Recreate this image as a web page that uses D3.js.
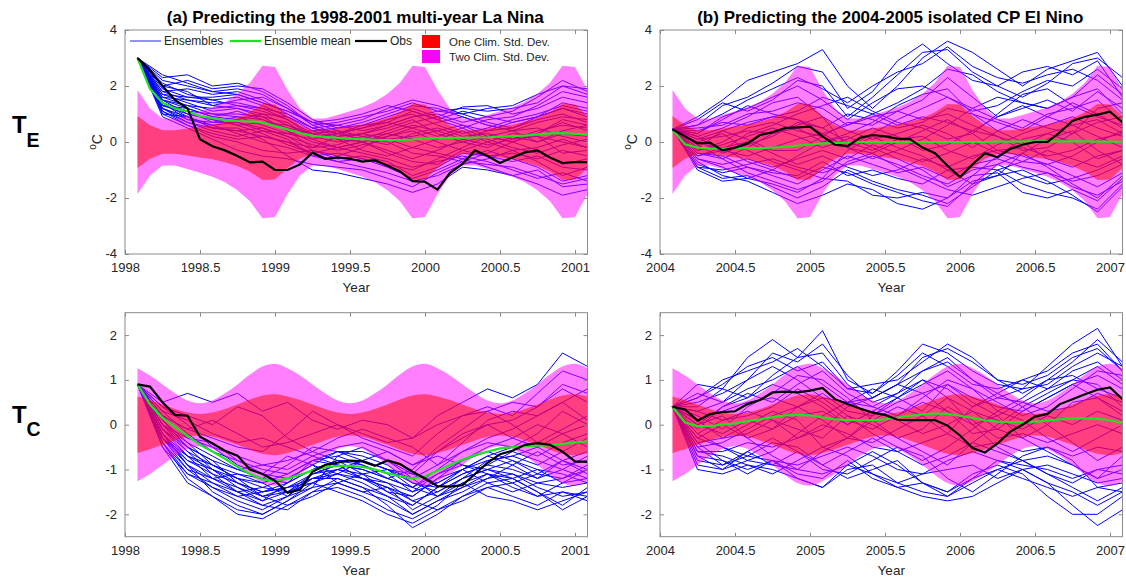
<!DOCTYPE html>
<html><head><meta charset="utf-8">
<script src="https://cdn.jsdelivr.net/npm/d3@7"></script>
<style>
body{margin:0;background:#fff;}
svg{display:block;font-family:"Liberation Sans",Arial,Helvetica,sans-serif;}
</style></head><body>
<svg id="c" width="1126" height="582"></svg>
<script>
// ---------------- DATA ----------------
const titles = ["(a) Predicting the 1998-2001 multi-year La Nina", "(b) Predicting the 2004-2005 isolated CP El Nino"];
const startYears = [1998, 2004];
const xTicksA = [1998, 1998.5, 1999, 1999.5, 2000, 2000.5, 2001];
const xTicksB = [2004, 2004.5, 2005, 2005.5, 2006, 2006.5, 2007];
const yTicksTE = [-4, -2, 0, 2, 4];
const yTicksTC = [-2, -1, 0, 1, 2];
const yDomainTE = [-4, 4];
const yDomainTC = [-2.5, 2.5];

// climatological std by calendar-month index (0 = Dec/Jan boundary point)
const stdTE = [1.34, 0.93, 0.6, 0.42, 0.42, 0.48, 0.55, 0.62, 0.72, 0.86, 1.06, 1.36];
const stdTC = [0.68, 0.63, 0.55, 0.45, 0.35, 0.27, 0.24, 0.27, 0.35, 0.45, 0.56, 0.65];

// monthly ensemble mean & observations (37 months)
const meanTE_a = [3.0,1.9,1.4,1.2,1.1,0.92,0.85,0.78,0.75,0.74,0.7,0.57,0.45,0.32,0.22,0.18,0.15,0.12,0.1,0.08,0.07,0.07,0.09,0.12,0.14,0.15,0.15,0.16,0.17,0.19,0.21,0.23,0.27,0.31,0.32,0.29,0.26];
const obsTE_a  = [3.0,2.55,2.0,1.5,1.2,0.1,-0.15,-0.3,-0.5,-0.73,-0.7,-1.0,-1.0,-0.8,-0.38,-0.6,-0.55,-0.6,-0.7,-0.65,-0.85,-1.05,-1.4,-1.42,-1.7,-1.1,-0.78,-0.3,-0.5,-0.75,-0.55,-0.37,-0.3,-0.55,-0.75,-0.72,-0.72];
const meanTE_b = [0.43,-0.08,-0.2,-0.23,-0.24,-0.23,-0.22,-0.22,-0.2,-0.17,-0.13,-0.09,-0.05,-0.03,-0.02,0.0,0.0,0.0,0.0,0.0,0.0,0.0,0.0,0.0,0.0,0.0,0.01,0.01,0.02,0.02,0.02,0.02,0.02,0.02,0.01,0.01,0.0];
const obsTE_b  = [0.45,0.2,-0.05,-0.02,-0.3,-0.2,-0.05,0.25,0.35,0.5,0.52,0.55,0.2,-0.1,-0.15,0.15,0.25,0.2,0.12,0.1,-0.2,-0.4,-0.85,-1.25,-0.8,-0.4,-0.55,-0.25,-0.1,0.0,0.0,0.35,0.75,0.9,0.98,1.08,0.7];
const meanTC_a = [0.9,0.45,0.15,-0.05,-0.25,-0.45,-0.6,-0.76,-0.94,-1.1,-1.22,-1.25,-1.2,-1.12,-1.02,-0.95,-0.92,-0.92,-0.94,-1.0,-1.08,-1.15,-1.2,-1.15,-1.02,-0.9,-0.78,-0.68,-0.6,-0.53,-0.5,-0.48,-0.47,-0.46,-0.43,-0.4,-0.37];
const obsTC_a  = [0.9,0.85,0.5,0.22,0.2,-0.27,-0.42,-0.58,-0.69,-1.0,-1.1,-1.25,-1.52,-1.45,-1.05,-0.9,-0.85,-0.8,-0.82,-0.92,-0.8,-0.88,-1.05,-1.2,-1.37,-1.38,-1.35,-1.1,-0.85,-0.66,-0.58,-0.45,-0.41,-0.45,-0.6,-0.82,-0.83];
const meanTC_b = [0.4,0.05,-0.03,-0.03,0.0,0.03,0.08,0.12,0.17,0.21,0.22,0.21,0.16,0.12,0.1,0.1,0.1,0.12,0.16,0.2,0.23,0.25,0.24,0.2,0.15,0.1,0.07,0.06,0.06,0.07,0.09,0.12,0.14,0.14,0.13,0.1,0.04];
const obsTC_b  = [0.4,0.34,0.09,0.24,0.28,0.3,0.46,0.55,0.72,0.74,0.72,0.76,0.82,0.57,0.46,0.36,0.27,0.22,0.11,0.1,0.1,0.1,-0.02,-0.24,-0.52,-0.62,-0.42,-0.16,0.0,0.18,0.24,0.46,0.57,0.68,0.78,0.83,0.57];

// ensemble members, bi-monthly (19 points)
const ensTE_a = [
[3.0,2.3,2.4,2.0,2.1,1.8,1.3,0.6,0.7,0.9,1.1,1.4,1.1,1.2,1.1,1.2,1.4,2.0,1.9],
[3.0,2.0,2.2,1.9,2.0,1.9,1.4,0.8,0.5,0.6,0.9,1.2,0.9,1.25,1.3,1.0,1.2,1.6,1.4],
[3.0,1.8,1.9,1.7,1.8,1.5,1.0,0.5,0.6,0.4,0.6,0.9,1.0,0.7,0.9,1.1,1.6,2.2,1.8],
[3.0,1.6,1.5,1.3,1.5,1.6,1.2,0.6,0.3,0.5,0.8,1.0,0.6,0.3,0.5,0.8,1.0,1.3,1.1],
[3.0,1.5,1.3,1.0,0.9,0.8,0.5,0.3,0.4,0.2,0.3,0.6,0.4,0.6,0.4,0.5,0.8,1.0,0.7],
[3.0,1.3,1.0,0.8,0.6,0.7,0.6,0.2,0.0,0.1,-0.1,0.3,0.5,0.2,0.3,0.1,0.4,0.6,0.5],
[3.0,1.2,0.9,0.5,0.4,0.2,0.0,-0.2,0.2,0.3,0.5,0.8,0.3,0.0,-0.2,0.2,0.0,0.3,0.2],
[3.0,1.1,0.7,0.4,0.2,0.4,0.3,0.4,0.1,-0.3,-0.5,-0.2,0.1,0.4,0.0,-0.3,-0.2,0.1,-0.2],
[3.0,1.0,0.6,0.2,0.0,-0.3,-0.4,-0.3,-0.5,-0.2,0.2,0.4,0.0,-0.3,-0.5,-0.4,-0.6,-0.3,-0.5],
[3.0,1.4,0.8,0.6,0.3,0.0,-0.2,-0.5,-0.4,-0.6,-0.8,-1.0,-0.6,-0.2,0.2,0.0,-0.3,-0.8,-0.6],
[3.0,0.9,0.5,0.1,-0.3,-0.5,-0.6,-0.8,-0.9,-1.0,-1.3,-1.6,-1.1,-0.7,-0.8,-0.9,-1.2,-1.5,-1.3],
[3.0,1.2,0.7,0.5,0.5,0.1,-0.5,-1.0,-1.1,-1.3,-1.5,-1.8,-1.5,-0.9,-1.0,-1.2,-1.5,-1.9,-1.7],
[3.0,1.7,1.4,1.1,1.2,0.9,0.7,0.1,-0.2,-0.4,-0.6,-0.9,-0.7,-0.5,-0.7,-1.0,-1.3,-1.1,-1.4],
[3.0,1.5,1.2,0.9,0.8,1.0,0.9,0.4,0.5,0.7,1.0,1.3,1.2,0.9,0.6,0.4,0.5,0.2,0.0],
[3.0,2.1,1.7,1.5,1.3,1.1,0.8,0.3,0.1,0.0,-0.3,-0.6,-0.3,0.1,0.4,0.7,0.9,1.2,0.9],
[3.0,1.3,1.1,0.7,0.7,0.5,0.2,-0.1,-0.3,-0.1,0.1,-0.2,-0.4,-0.6,-0.3,-0.6,-0.9,-1.4,-1.2],
[3.0,2.2,2.0,1.8,1.9,1.7,1.2,0.7,0.8,1.0,1.3,1.1,0.8,1.1,0.9,0.7,0.9,1.4,1.2],
[3.0,1.9,1.6,1.5,1.6,1.3,0.9,0.5,0.3,0.6,0.7,0.5,0.2,0.5,0.8,0.9,1.3,1.8,1.6],
[3.0,1.6,1.3,1.2,1.3,1.2,0.8,0.2,0.3,0.1,0.4,0.7,0.9,0.6,0.2,0.0,0.3,0.7,0.4],
[3.0,1.4,1.1,1.0,1.0,0.9,0.4,0.0,-0.2,0.0,0.3,0.1,-0.2,0.0,0.2,0.4,0.7,0.9,0.8],
[3.0,1.2,0.8,0.7,0.9,0.6,0.3,0.1,0.3,0.5,0.7,1.1,0.8,0.5,0.1,-0.2,-0.4,-0.1,0.1],
[3.0,1.0,0.9,0.5,0.4,0.5,0.2,-0.3,-0.6,-0.5,-0.7,-1.2,-0.9,-0.4,-0.5,-0.7,-0.5,-0.9,-1.0],
[3.0,1.5,1.0,0.8,0.6,0.3,-0.1,-0.4,-0.2,0.0,-0.4,-0.7,-0.8,-0.3,0.0,0.3,0.2,-0.4,-0.3],
[3.0,1.8,1.5,1.4,1.4,1.2,1.0,0.5,0.2,0.3,0.6,0.9,1.1,1.0,0.7,0.5,0.9,1.2,1.0],
[3.0,2.4,2.1,1.8,1.7,1.4,1.1,0.7,0.4,0.0,0.2,0.5,0.7,0.9,0.6,0.4,0.0,0.4,0.6],
[3.0,1.1,0.6,0.3,0.1,0.2,0.0,-0.4,-0.7,-0.9,-1.1,-1.4,-1.2,-0.8,-0.6,-0.3,-0.7,-1.2,-0.9],
[3.0,1.3,1.2,0.9,1.1,0.8,0.4,-0.2,-0.1,0.2,0.0,-0.4,-0.5,-0.7,-0.4,0.0,0.3,0.8,0.6],
[3.0,1.7,1.6,1.6,1.7,1.4,1.1,0.7,0.6,0.8,1.2,1.5,1.3,1.0,1.2,1.3,1.7,2.0,1.7],
[3.0,1.4,0.9,0.6,0.7,0.4,0.1,-0.5,-0.7,-0.6,-0.9,-1.3,-1.0,-0.6,-0.9,-1.2,-1.0,-1.6,-1.5],
[3.0,2.0,1.8,1.3,1.2,1.0,0.6,0.3,0.1,0.3,0.1,0.2,0.4,0.1,-0.1,0.1,0.2,0.0,-0.2]
];
const ensTE_b = [
[0.45,0.9,1.5,2.2,2.5,2.8,3.3,2.0,1.2,2.0,3.0,3.6,3.2,2.6,2.0,2.6,2.9,3.2,2.0],
[0.45,0.6,1.3,1.6,2.1,2.7,2.5,1.2,1.8,2.9,3.5,2.8,2.2,2.0,2.5,2.7,2.4,2.9,1.6],
[0.45,0.3,0.9,1.2,1.6,2.0,1.5,0.8,1.4,1.9,2.0,1.6,1.1,1.3,1.8,2.2,2.0,2.6,1.9],
[0.45,0.5,0.6,1.0,1.1,1.4,1.2,0.6,0.9,1.1,1.5,2.3,1.6,0.9,1.2,1.5,1.1,1.8,1.2],
[0.45,-0.2,0.4,0.7,0.9,0.8,0.5,1.0,0.8,0.5,0.7,1.2,1.0,0.7,0.4,0.9,1.4,1.0,0.5],
[0.45,0.1,0.2,0.4,0.3,0.6,0.9,0.4,0.1,0.3,0.6,0.3,-0.2,0.4,0.8,0.5,0.3,0.7,0.9],
[0.45,-0.3,-0.1,0.2,0.5,0.2,-0.2,0.1,0.5,0.2,-0.3,-0.1,0.4,0.2,-0.1,0.3,0.6,0.2,-0.2],
[0.45,-0.5,-0.3,-0.5,-0.2,0.1,0.3,-0.2,-0.4,0.0,0.4,0.8,0.3,-0.3,-0.2,-0.5,-0.3,0.1,0.3],
[0.45,-0.6,-0.8,-0.6,-0.9,-0.6,-0.3,-0.6,-0.1,-0.4,-0.7,-0.4,0.0,-0.4,-0.7,-0.3,-0.6,-0.9,-0.5],
[0.45,-0.4,-0.5,-0.9,-1.2,-1.5,-1.0,-0.5,-0.8,-1.1,-0.9,-1.3,-0.8,-0.6,-0.9,-1.1,-1.4,-1.2,-0.8],
[0.45,-0.9,-1.3,-1.2,-1.6,-2.0,-1.6,-1.0,-1.4,-1.7,-1.9,-2.2,-1.6,-1.0,-1.5,-1.8,-2.0,-2.4,-1.5],
[0.45,-1.0,-1.4,-1.3,-1.5,-1.8,-1.3,-1.4,-1.9,-2.0,-1.8,-2.0,-1.2,-1.1,-1.8,-2.0,-1.7,-2.1,-1.3],
[0.45,-0.8,-1.1,-0.9,-1.1,-1.2,-0.7,-1.2,-1.0,-1.3,-1.5,-1.0,-0.9,-1.0,-0.7,-0.8,-1.2,-1.6,-1.1],
[0.45,0.2,0.5,0.9,1.4,1.6,0.9,-0.2,-0.6,-0.3,0.1,0.6,1.2,1.6,1.4,1.2,1.6,1.9,1.0],
[0.45,-0.1,-0.6,-0.2,0.3,0.5,0.0,0.3,0.7,1.3,1.7,1.9,1.0,0.4,0.0,-0.6,-0.9,-0.5,-0.3],
[0.45,0.0,0.3,-0.3,-0.7,-1.0,-1.3,-0.3,0.2,-0.2,-0.5,-1.0,-1.5,-1.2,-0.4,0.1,0.4,-0.3,-0.8],
[0.45,0.8,1.4,1.1,1.5,2.2,2.0,0.9,1.6,2.4,3.2,3.3,2.5,2.0,1.6,2.1,2.8,3.0,2.3],
[0.45,0.4,0.7,0.6,0.9,1.1,1.6,1.3,1.0,1.4,1.9,2.6,2.4,1.8,1.4,1.2,1.6,2.4,1.7],
[0.45,-0.3,0.0,0.5,0.7,0.4,0.2,-0.2,0.3,0.8,1.2,1.6,1.2,0.8,0.5,1.0,1.2,1.5,0.7],
[0.45,0.2,-0.4,-0.1,0.2,0.7,0.5,0.0,-0.3,0.1,0.2,-0.3,-0.6,-0.1,0.3,0.6,0.9,0.5,0.2],
[0.45,-0.6,-0.9,-1.3,-1.0,-0.5,0.0,0.2,-0.2,-0.6,-1.0,-1.6,-1.2,-0.5,0.1,0.3,0.0,-0.6,-0.3],
[0.45,-0.7,-1.2,-1.4,-1.8,-2.2,-1.9,-1.5,-1.7,-2.2,-2.4,-2.0,-1.4,-1.2,-1.0,-1.4,-1.9,-2.5,-1.6],
[0.45,-0.9,-1.0,-0.8,-0.6,-0.9,-1.1,-0.8,-0.5,-0.8,-1.2,-1.5,-1.0,-0.8,-1.2,-1.5,-1.3,-1.0,-0.6],
[0.45,-0.2,-0.2,0.0,-0.4,-0.8,-0.5,-0.9,-1.2,-1.0,-0.6,-0.9,-0.5,-0.3,-0.5,-0.8,-0.5,0.0,0.4],
[0.45,0.3,0.8,1.3,1.0,0.8,0.3,0.6,1.0,0.6,0.9,0.7,0.4,0.9,1.3,0.9,0.6,0.8,0.3],
[0.45,-0.4,-0.6,-1.1,-1.4,-1.7,-1.4,-0.7,-0.4,-0.9,-1.3,-1.7,-1.9,-1.6,-1.3,-1.1,-1.6,-1.9,-1.4],
[0.45,0.1,0.4,0.1,-0.3,-0.3,0.2,0.7,0.6,1.1,0.8,1.0,0.6,0.2,-0.3,-0.2,0.3,1.2,1.4],
[0.45,0.6,1.0,1.5,1.9,2.3,1.9,1.4,2.0,2.5,2.8,3.4,2.7,2.3,2.1,2.4,2.6,2.2,1.5],
[0.45,-0.5,-0.2,-0.7,-1.0,-1.3,-0.9,-1.1,-1.5,-1.8,-2.1,-2.3,-1.5,-0.8,-0.4,-0.9,-1.5,-2.0,-1.2],
[0.45,0.0,-0.3,0.3,0.6,1.0,1.3,1.6,1.1,0.7,0.5,0.1,0.3,1.0,1.7,1.9,1.3,0.9,0.6]
];
const ensTC_a = [
[0.9,0.5,0.7,0.5,0.7,0.3,0.5,0.1,-0.1,0.1,0.0,-0.3,0.2,0.5,0.8,0.6,0.9,1.6,1.3],
[0.9,0.2,-0.1,-0.3,-0.5,-0.6,-0.2,0.3,0.0,-0.3,-0.5,-0.7,-0.2,0.2,0.4,0.2,0.7,1.2,1.0],
[0.9,0.0,-0.4,-0.7,-1.0,-1.2,-0.9,-0.5,-0.6,-0.8,-1.0,-1.1,-0.6,-0.3,0.0,0.1,0.4,0.8,0.5],
[0.9,-0.2,-0.8,-1.1,-1.3,-1.5,-1.3,-1.0,-0.8,-0.9,-1.2,-1.4,-1.0,-0.6,-0.4,-0.5,-0.2,0.3,0.0],
[0.9,-0.4,-1.0,-1.4,-1.7,-1.9,-1.6,-1.2,-1.0,-1.1,-1.5,-1.8,-1.4,-1.1,-0.9,-1.0,-1.2,-0.8,-1.1],
[0.9,-0.5,-1.3,-1.6,-2.0,-2.1,-1.8,-1.5,-1.2,-1.4,-1.8,-2.3,-2.0,-1.6,-1.4,-1.3,-1.6,-1.5,-1.6],
[0.9,0.1,-0.5,-1.0,-1.4,-1.6,-1.4,-1.3,-1.1,-1.3,-1.6,-2.0,-1.7,-1.4,-1.1,-1.2,-1.5,-1.8,-1.4],
[0.9,-0.3,-0.7,-1.2,-1.5,-1.4,-1.2,-0.9,-1.3,-1.5,-1.4,-1.6,-1.2,-1.0,-1.3,-1.5,-1.3,-1.2,-0.9],
[0.9,0.3,-0.2,-0.6,-0.8,-1.0,-1.1,-0.8,-0.6,-0.7,-0.9,-1.3,-1.5,-1.2,-0.8,-0.7,-0.9,-0.6,-0.3],
[0.9,-0.1,-0.6,-0.9,-1.2,-1.4,-1.5,-1.1,-0.9,-1.2,-1.3,-1.5,-1.1,-0.8,-0.5,-0.3,0.0,-0.2,-0.5],
[0.9,0.4,0.2,0.0,0.4,0.2,-0.3,-0.6,-0.3,-0.1,-0.3,-0.5,-0.9,-0.4,0.1,0.3,0.2,0.5,0.1],
[0.9,-0.4,-1.1,-1.3,-1.6,-1.8,-1.9,-1.5,-1.4,-1.6,-1.9,-2.1,-1.8,-1.3,-1.6,-1.7,-1.9,-1.7,-1.5],
[0.9,0.2,-0.3,-0.4,-0.8,-1.1,-0.7,-0.9,-1.1,-0.8,-0.6,-0.9,-0.7,-0.9,-1.0,-0.8,-1.0,-1.3,-1.2],
[0.9,-0.2,-0.9,-1.2,-1.1,-1.3,-1.6,-1.4,-0.7,-0.5,-0.8,-1.2,-1.6,-1.4,-1.2,-0.9,-0.6,-0.9,-0.8],
[0.9,0.0,-0.5,-0.8,-1.0,-0.9,-1.0,-0.7,-0.9,-1.0,-1.2,-1.0,-0.5,-0.1,0.3,0.0,-0.4,-0.1,0.2],
[0.9,-0.3,-0.9,-1.5,-1.8,-2.0,-1.7,-1.3,-1.5,-1.7,-2.0,-2.2,-1.9,-1.7,-1.4,-1.6,-1.8,-1.5,-1.7],
[0.9,-0.1,-0.7,-1.0,-1.3,-1.6,-1.5,-1.2,-1.1,-1.2,-1.4,-1.7,-1.5,-1.2,-1.0,-1.1,-1.3,-1.4,-1.3],
[0.9,-0.2,-0.9,-1.3,-1.5,-1.7,-1.3,-0.8,-0.7,-0.9,-1.1,-1.5,-1.3,-1.0,-0.8,-0.7,-0.5,-0.8,-0.6],
[0.9,0.1,-0.4,-0.9,-1.2,-1.3,-1.1,-0.8,-0.9,-1.2,-1.5,-1.6,-1.2,-0.8,-0.6,-0.8,-1.1,-1.2,-1.0],
[0.9,-0.4,-1.2,-1.6,-1.9,-2.0,-1.7,-1.4,-1.3,-1.5,-1.7,-2.0,-1.7,-1.5,-1.2,-1.1,-1.4,-1.6,-1.5],
[0.9,0.3,0.1,-0.2,-0.4,-0.3,-0.5,-0.7,-0.5,-0.4,-0.6,-0.9,-0.6,-0.2,0.0,-0.3,-0.5,-0.2,0.0],
[0.9,-0.3,-0.8,-1.0,-1.2,-1.6,-1.8,-1.6,-1.3,-1.1,-1.3,-1.7,-1.9,-1.6,-1.3,-1.2,-1.0,-1.1,-1.3],
[0.9,0.0,-0.6,-1.1,-1.5,-1.8,-1.6,-1.1,-0.9,-1.0,-1.2,-1.4,-1.1,-0.9,-1.1,-1.4,-1.6,-1.3,-1.0],
[0.9,0.4,0.0,-0.5,-0.7,-0.9,-0.8,-0.6,-0.8,-1.1,-1.0,-1.2,-0.9,-0.6,-0.3,-0.1,0.2,0.5,0.8],
[0.9,-0.2,-0.7,-0.9,-1.1,-1.2,-1.3,-1.0,-0.8,-0.8,-1.0,-1.3,-1.4,-1.1,-0.9,-0.6,-0.8,-1.0,-0.7],
[0.9,-0.1,-0.5,-0.8,-1.3,-1.5,-1.4,-1.2,-1.2,-1.4,-1.6,-1.8,-1.4,-1.0,-0.7,-0.9,-1.2,-1.0,-1.2],
[0.9,0.2,-0.1,0.1,-0.2,-0.5,-0.4,-0.2,0.0,-0.2,-0.4,-0.3,0.0,0.2,0.3,0.5,0.4,0.9,0.7],
[0.9,-0.5,-1.1,-1.4,-1.6,-1.5,-1.4,-1.1,-1.0,-1.2,-1.4,-1.9,-1.6,-1.2,-1.0,-1.2,-1.5,-1.9,-1.6],
[0.9,0.0,-0.3,-0.5,-0.9,-1.1,-1.2,-0.9,-0.6,-0.6,-0.8,-1.1,-1.3,-1.0,-0.7,-0.5,-0.7,-0.4,-0.2],
[0.9,-0.3,-1.0,-1.2,-1.4,-1.7,-1.5,-1.3,-1.0,-0.8,-1.0,-1.4,-1.6,-1.3,-1.1,-1.3,-1.1,-0.8,-1.0]
];
const ensTC_b = [
[0.4,0.9,0.8,1.5,1.9,1.5,2.1,1.0,0.7,1.2,1.8,1.6,1.2,0.9,0.8,1.3,1.8,2.15,1.3],
[0.4,0.6,1.0,1.2,1.4,1.7,1.3,0.8,0.9,1.0,1.4,1.8,1.5,1.0,0.9,1.1,1.5,1.7,1.2],
[0.4,0.3,0.5,0.8,1.0,1.3,0.9,0.5,0.6,0.9,1.2,1.5,1.0,0.7,1.0,0.8,1.2,1.4,1.0],
[0.4,0.1,0.3,0.5,0.6,0.4,0.7,0.3,0.2,0.5,0.7,0.9,0.6,0.4,0.3,0.6,0.9,1.1,0.8],
[0.4,-0.2,0.1,0.2,0.4,0.8,0.5,0.1,-0.1,0.2,0.5,0.3,0.0,0.2,0.5,0.3,0.4,0.7,0.5],
[0.4,0.0,-0.2,0.1,-0.1,0.2,0.3,0.0,0.3,0.1,-0.2,0.0,0.3,0.1,-0.1,0.2,0.0,0.3,0.1],
[0.4,-0.4,-0.3,-0.2,0.1,-0.1,-0.3,0.2,0.0,-0.3,-0.1,0.4,0.1,-0.3,-0.2,-0.4,-0.2,0.0,-0.2],
[0.4,-0.6,-0.6,-0.4,-0.5,-0.3,0.0,-0.2,-0.5,-0.6,-0.4,-0.2,-0.5,-0.4,-0.6,-0.5,-0.7,-0.5,-0.6],
[0.4,-0.8,-0.9,-0.7,-0.8,-0.9,-0.7,-0.5,-0.7,-1.0,-1.1,-0.8,-0.6,-0.8,-0.9,-1.0,-1.2,-1.0,-0.9],
[0.4,-1.0,-1.1,-0.9,-1.0,-1.2,-1.4,-1.0,-0.9,-1.3,-1.5,-1.6,-1.3,-1.0,-1.2,-1.4,-1.6,-1.4,-1.5],
[0.4,-0.7,-0.8,-1.0,-0.8,-1.1,-1.2,-0.8,-1.2,-1.4,-1.6,-1.7,-1.6,-1.3,-1.0,-1.3,-1.8,-2.25,-1.9],
[0.4,-0.5,-0.9,-0.6,-0.9,-0.6,-0.9,-1.2,-1.0,-0.8,-1.3,-1.5,-1.1,-0.9,-1.1,-1.6,-2.0,-2.0,-1.6],
[0.4,0.5,0.7,1.0,1.3,1.0,0.6,0.5,0.4,0.7,1.0,0.8,0.4,0.6,0.8,0.9,1.3,1.6,1.3],
[0.4,0.2,-0.1,0.4,0.7,1.1,1.0,0.6,0.1,-0.3,-0.6,-0.9,-0.4,0.0,0.4,0.7,1.0,0.9,0.4],
[0.4,-0.3,-0.5,-0.8,-0.6,-0.2,0.2,0.5,0.8,0.6,0.3,0.9,0.5,0.2,-0.3,-0.6,-0.9,-1.2,-0.7],
[0.4,0.0,0.2,-0.3,-0.7,-1.0,-0.6,-0.3,0.2,0.6,1.0,0.6,0.0,-0.5,-0.8,-1.1,-1.3,-1.0,-1.1],
[0.4,0.7,0.5,1.0,1.6,1.4,1.8,1.1,0.6,0.9,1.5,1.7,1.4,1.0,0.7,1.0,1.4,1.9,1.4],
[0.4,0.4,0.8,0.6,1.1,1.5,1.6,0.9,0.5,0.7,1.2,1.4,1.0,0.6,0.5,0.8,1.0,1.3,0.9],
[0.4,-0.1,0.4,0.6,0.9,0.7,0.4,0.0,0.3,0.6,0.9,1.2,0.8,0.3,0.6,1.0,1.1,0.8,0.6],
[0.4,-0.5,-0.4,-0.1,0.2,0.4,0.1,-0.3,-0.4,-0.1,0.2,0.6,0.3,-0.1,-0.3,0.0,0.5,0.6,0.2],
[0.4,-0.2,-0.5,-0.7,-0.4,-0.5,-0.9,-0.6,-0.3,-0.6,-0.9,-0.7,-0.4,-0.6,-0.8,-0.7,-0.9,-1.2,-1.0],
[0.4,-0.9,-1.0,-0.8,-0.9,-1.0,-1.1,-0.9,-0.6,-0.9,-1.3,-1.5,-1.2,-1.0,-0.8,-1.1,-1.4,-1.7,-1.4],
[0.4,-0.6,-0.7,-0.9,-1.1,-0.8,-0.5,-0.7,-1.1,-1.3,-1.1,-1.0,-0.9,-1.2,-1.0,-0.9,-1.1,-1.3,-1.2],
[0.4,0.0,0.4,0.7,0.5,0.9,1.2,0.7,0.4,0.2,0.6,1.0,0.8,0.5,0.2,0.4,0.8,1.2,1.1],
[0.4,-0.3,0.0,-0.3,-0.1,0.4,0.6,0.2,-0.2,-0.5,-0.8,-0.5,-0.1,0.3,0.1,-0.3,-0.6,-0.3,0.0],
[0.4,-0.7,-1.0,-0.6,-0.3,-0.6,-1.0,-1.1,-0.8,-0.5,-0.7,-1.2,-1.5,-1.1,-0.7,-0.5,-0.8,-1.4,-1.3],
[0.4,0.3,0.1,0.3,0.1,-0.3,-0.1,0.4,0.6,0.9,0.7,0.3,-0.2,-0.1,0.3,0.6,0.9,0.6,0.3],
[0.4,0.6,0.9,1.3,1.5,1.2,1.4,0.8,0.7,1.1,1.6,1.3,0.9,0.8,1.0,1.2,1.6,1.8,1.2],
[0.4,-0.4,-0.8,-1.1,-0.8,-1.2,-1.4,-0.9,-1.1,-1.4,-1.3,-1.6,-1.2,-0.8,-1.0,-1.3,-1.5,-1.8,-1.5],
[0.4,0.1,-0.3,0.0,0.3,0.1,-0.5,-0.3,0.1,0.4,0.2,-0.2,0.4,0.7,0.4,0.0,-0.4,-0.8,-0.5]
];

const legendLabels = ["Ensembles", "Ensemble mean", "Obs", "One Clim. Std. Dev.", "Two Clim. Std. Dev."];
const rowLabels = [["T", "E"], ["T", "C"]];

// ---------------- DRAW ----------------
const svg = d3.select("#c");
const AX = "#8a8a8a", TXT = "#262626";
const cols = [{x0: 125, x1: 587.5}, {x0: 660, x1: 1122.5}];
const rows = [{y0: 30, y1: 254}, {y0: 312.7, y1: 536.7}];

const panels = [
  {r: 0, c: 0, ens: ensTE_a, mean: meanTE_a, obs: obsTE_a, std: stdTE, yd: yDomainTE, yt: yTicksTE, smooth: false},
  {r: 0, c: 1, ens: ensTE_b, mean: meanTE_b, obs: obsTE_b, std: stdTE, yd: yDomainTE, yt: yTicksTE, smooth: false},
  {r: 1, c: 0, ens: ensTC_a, mean: meanTC_a, obs: obsTC_a, std: stdTC, yd: yDomainTC, yt: yTicksTC, smooth: true},
  {r: 1, c: 1, ens: ensTC_b, mean: meanTC_b, obs: obsTC_b, std: stdTC, yd: yDomainTC, yt: yTicksTC, smooth: true}
];

panels.forEach((p, pi) => {
  const C = cols[p.c], R = rows[p.r];
  const y0 = startYears[p.c];
  const x = d3.scaleLinear().domain([y0, y0 + 37 / 12]).range([C.x0, C.x1]);
  const y = d3.scaleLinear().domain(p.yd).range([R.y1, R.y0]);
  const g = svg.append("g");
  const cid = "clip" + pi;
  svg.append("clipPath").attr("id", cid).append("rect")
    .attr("x", C.x0).attr("y", R.y0).attr("width", C.x1 - C.x0).attr("height", R.y1 - R.y0);
  const plot = g.append("g").attr("clip-path", `url(#${cid})`);

  const monthT = i => y0 + (i + 1) / 12;
  const ensT = k => y0 + (1 + 2 * k) / 12;

  // ensembles
  const eLine = d3.line().x((d, k) => x(ensT(k))).y(d => y(d));
  plot.selectAll(".ens").data(p.ens).join("path")
    .attr("d", eLine).attr("fill", "none").attr("stroke", "#0000ff").attr("stroke-width", 1);

  // bands
  const months = d3.range(37);
  const sd = i => p.std[(i + 1) % 12];
  const curve = p.smooth ? d3.curveMonotoneX : d3.curveLinear;
  const a2 = d3.area().x(i => x(monthT(i))).y0(i => y(-2 * sd(i))).y1(i => y(2 * sd(i))).curve(curve);
  const a1 = d3.area().x(i => x(monthT(i))).y0(i => y(-sd(i))).y1(i => y(sd(i))).curve(curve);
  plot.append("path").attr("d", a2(months)).attr("fill", "#ff00ff").attr("fill-opacity", 0.5);
  plot.append("path").attr("d", a1(months)).attr("fill", "#ff0000").attr("fill-opacity", 0.5);

  // mean and obs
  const mLine = d3.line().x((d, i) => x(monthT(i))).y(d => y(d));
  plot.append("path").attr("d", mLine(p.mean)).attr("fill", "none").attr("stroke", "#22e022").attr("stroke-width", 2.2);
  plot.append("path").attr("d", mLine(p.obs)).attr("fill", "none").attr("stroke", "#000").attr("stroke-width", 2.2);

  // axes
  const xt = p.c === 0 ? xTicksA : xTicksB;
  const fmt = d => String(d);
  const gx = g.append("g").attr("transform", `translate(0,${R.y1})`)
    .call(d3.axisBottom(x).tickValues(xt).tickFormat(fmt).tickSizeInner(-4).tickSizeOuter(0).tickPadding(9));
  const gxt = g.append("g").attr("transform", `translate(0,${R.y0})`)
    .call(d3.axisTop(x).tickValues(xt).tickFormat("").tickSizeInner(-4).tickSizeOuter(0));
  const gy = g.append("g").attr("transform", `translate(${C.x0},0)`)
    .call(d3.axisLeft(y).tickValues(p.yt).tickFormat(fmt).tickSizeInner(-4).tickSizeOuter(0).tickPadding(8));
  const gyr = g.append("g").attr("transform", `translate(${C.x1},0)`)
    .call(d3.axisRight(y).tickValues(p.yt).tickFormat("").tickSizeInner(-4).tickSizeOuter(0));
  [gx, gxt, gy, gyr].forEach(a => {
    a.select(".domain").remove();
    a.selectAll("line").attr("stroke", AX);
    a.selectAll("text").attr("fill", TXT).style("font-size", "13px").style("font-family", "Liberation Sans, Arial, sans-serif");
  });
  gy.selectAll("text").attr("dy", "0.3em");
  g.append("rect").attr("x", C.x0).attr("y", R.y0).attr("width", C.x1 - C.x0).attr("height", R.y1 - R.y0)
    .attr("fill", "none").attr("stroke", AX).attr("stroke-width", 1);

  // x label
  g.append("text").attr("x", (C.x0 + C.x1) / 2).attr("y", R.y1 + 38).attr("text-anchor", "middle")
    .attr("fill", TXT).style("font-size", "13.5px").text("Year");

  // y label (top row only)
  if (p.r === 0) {
    const yl = g.append("text").attr("transform", `translate(${C.x0 - 25},${(R.y0 + R.y1) / 2}) rotate(-90)`)
      .attr("text-anchor", "middle").attr("fill", TXT).style("font-size", "14px");
    yl.append("tspan").attr("dy", "-0.4em").style("font-size", "10px").text("o");
    yl.append("tspan").attr("dy", "0.4em").text("C");
    // title
    g.append("text").attr("x", (C.x0 + C.x1) / 2 - 1).attr("y", R.y0 - 7).attr("text-anchor", "middle")
      .attr("fill", "#000").style("font-size", "17px").style("font-weight", "bold").text(titles[p.c]);
  }

  // legend in panel (a)
  if (pi === 0) {
    const lg = g.append("g");
    const ly = 41;
    const items = [
      {x1: 130, x2: 161, tx: 164, color: "#6b6bff", w: 1.5, lab: legendLabels[0]},
      {x1: 230, x2: 261, tx: 264, color: "#22e022", w: 2.2, lab: legendLabels[1]},
      {x1: 355, x2: 387, tx: 390, color: "#000", w: 2.2, lab: legendLabels[2]}
    ];
    items.forEach(it => {
      lg.append("line").attr("x1", it.x1).attr("x2", it.x2).attr("y1", ly).attr("y2", ly)
        .attr("stroke", it.color).attr("stroke-width", it.w);
      lg.append("text").attr("x", it.tx).attr("y", ly).attr("dy", "0.35em").attr("fill", TXT)
        .style("font-size", "12px").text(it.lab);
    });
    lg.append("rect").attr("x", 422).attr("y", 35).attr("width", 18).attr("height", 13).attr("fill", "#ff0000");
    lg.append("rect").attr("x", 422).attr("y", 50).attr("width", 18).attr("height", 13).attr("fill", "#ff00ff");
    lg.append("text").attr("x", 449).attr("y", 42).attr("dy", "0.35em").attr("fill", TXT).style("font-size", "11.5px").text(legendLabels[3]);
    lg.append("text").attr("x", 449).attr("y", 57).attr("dy", "0.35em").attr("fill", TXT).style("font-size", "11.5px").text(legendLabels[4]);
  }
});

// row labels
[[12, 133, 147], [12, 423, 436]].forEach((pos, r) => {
  const t = svg.append("text").attr("x", pos[0]).attr("y", pos[1]).attr("fill", "#000")
    .style("font-weight", "bold");
  t.append("tspan").style("font-size", "24px").text(rowLabels[r][0]);
  t.append("tspan").attr("x", pos[0] + 14.5).attr("y", pos[2]).style("font-size", "19.5px").text(rowLabels[r][1]);
});
</script></body></html>
